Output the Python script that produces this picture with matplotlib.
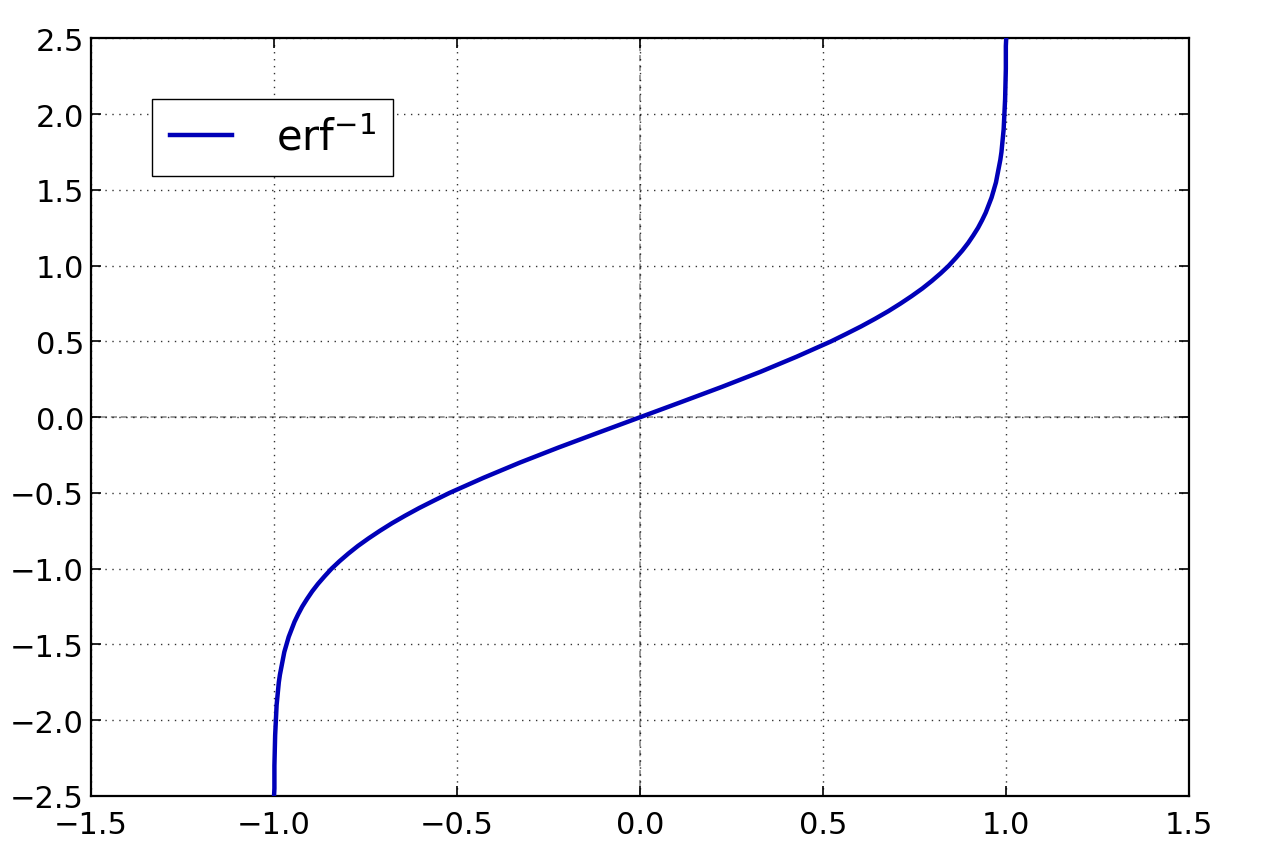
import numpy as np
import matplotlib
matplotlib.use("Agg")
import matplotlib.pyplot as plt

# points (x, y)
x_vals = [-1.000, -0.999, -0.999, -0.999, -0.998, -0.997, -0.995, -0.994, -0.993,
          -0.991, -0.989, -0.987, -0.984, -0.980, -0.976, -0.972, -0.966, -0.960,
          -0.952, -0.944, -0.934, -0.923, -0.910, -0.896, -0.880, -0.862, -0.843,
          -0.821, -0.797, -0.771, -0.742, -0.711, -0.678, -0.642, -0.604, -0.563,
          -0.521, -0.428, -0.329, -0.223, -0.112, 0.000,
          0.112, 0.223, 0.329, 0.428, 0.521, 0.563, 0.604, 0.642, 0.678, 0.711,
          0.742, 0.771, 0.797, 0.821, 0.843, 0.862, 0.880, 0.896, 0.910, 0.923,
          0.934, 0.944, 0.952, 0.960, 0.966, 0.972, 0.976, 0.980, 0.984, 0.987,
          0.989, 0.991, 0.993, 0.994, 0.995, 0.997, 0.998, 0.999, 0.999, 0.999,
          1.000]
y_vals = [-2.5, -2.45, -2.4, -2.3, -2.2, -2.1, -2.0, -1.95, -1.9,
          -1.85, -1.8, -1.75, -1.7, -1.65, -1.6, -1.55, -1.5, -1.45,
          -1.4, -1.35, -1.3, -1.25, -1.2, -1.15, -1.1, -1.05, -1.0,
          -0.95, -0.9, -0.85, -0.8, -0.75, -0.7, -0.65, -0.6, -0.55,
          -0.5, -0.4, -0.3, -0.2, -0.1, 0.0,
          0.1, 0.2, 0.3, 0.4, 0.5, 0.55, 0.6, 0.65, 0.7, 0.75,
          0.8, 0.85, 0.9, 0.95, 1.0, 1.05, 1.1, 1.15, 1.2, 1.25,
          1.3, 1.35, 1.4, 1.45, 1.5, 1.55, 1.6, 1.65, 1.7, 1.75,
          1.8, 1.85, 1.9, 1.95, 2.0, 2.1, 2.2, 2.3, 2.4, 2.45,
          2.5]

x_ticks = [-1.5, -1.0, -0.5, 0.0, 0.5, 1.0, 1.5]
y_ticks = [-2.5, -2.0, -1.5, -1.0, -0.5, 0.0, 0.5, 1.0, 1.5, 2.0, 2.5]

plt.rcParams['mathtext.default'] = 'regular'

fig = plt.figure(figsize=(12.8, 8.53), dpi=100)
ax = fig.add_axes([0.0711, 0.0657, 0.858, 0.888])

ax.axhline(0, color='#808080', linestyle=(0, (4, 2.5)), linewidth=1.1, zorder=1)
ax.axvline(0, color='#808080', linestyle=(0, (4, 2.5)), linewidth=1.1, zorder=1)

ax.plot(x_vals, y_vals, color='#0000b8', linewidth=3.2, label='erf$^{-1}$', zorder=3)

ax.set_xlim(-1.5, 1.5)
ax.set_ylim(-2.5, 2.5)
ax.set_xticks(x_ticks)
ax.set_yticks(y_ticks)
ax.grid(True, color='black', linestyle=(0, (1, 4)), linewidth=1.0, alpha=0.8)

ax.tick_params(direction='in', length=7, width=1.2, top=True, right=True,
               labelsize=22)
ax.tick_params(axis='x', pad=10)
ax.tick_params(axis='y', pad=5)
for sp in ax.spines.values():
    sp.set_linewidth(1.6)

leg = ax.legend(loc='upper left', bbox_to_anchor=(0.0556, 0.92), borderaxespad=0,
                fontsize=30, fancybox=False, framealpha=1, edgecolor='black',
                handlelength=1.5, handletextpad=1.05, borderpad=0.42)
leg.get_frame().set_linewidth(1.0)

fig.savefig("out.png", dpi=100)
